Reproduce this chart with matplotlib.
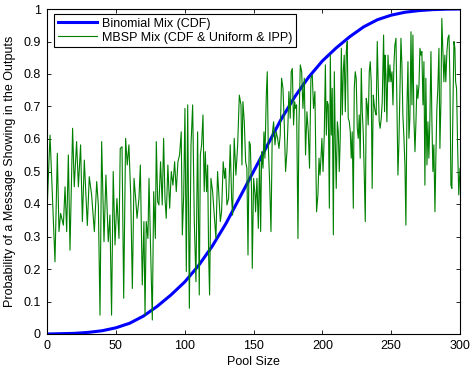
import numpy as np
import matplotlib
matplotlib.use("Agg")
import matplotlib.pyplot as plt

plt.rcParams['font.family'] = ['Liberation Sans', 'DejaVu Sans']

# Binomial mix CDF, read every 10 pool sizes
cdf_x = [0, 10, 20, 30, 40, 50, 60, 70, 80, 90, 100, 110, 120, 130, 140, 150,
         160, 170, 180, 190, 200, 210, 220, 230, 240, 250, 260, 270, 280, 290, 300]
cdf_y = [0.000, 0.001, 0.002, 0.005, 0.010, 0.019, 0.033, 0.055, 0.085, 0.12, 0.16,
         0.21, 0.27, 0.34, 0.42, 0.50, 0.58, 0.66, 0.73, 0.79, 0.84, 0.88, 0.915,
         0.945, 0.967, 0.981, 0.990, 0.995, 0.998, 0.9995, 1.0]

# MBSP mix (CDF & Uniform & IPP)
mbsp_x = [0, 2.2, 5.8, 7.5, 8.7, 9.9, 11.9, 13.1, 14.3, 15.5, 16.7, 18.6, 19.8, 21.5, 22.8,
          24.4, 25.7, 27.1, 29.3, 30.7, 32.4, 34.4, 36.1, 37.3, 38.5, 39.7, 41.4, 42.8, 44.5,
          45.7, 46.9, 48.1, 49.4,
          50.8, 52.3, 53.2, 54.5, 55.7, 57.1, 58.3, 59.5, 60.8, 62.0, 63.2, 64.4, 65.4, 66.8,
          67.8, 69.2, 70.4, 71.2, 72.1, 73.3, 74.1, 75.3, 76.5, 77.5, 78.7, 79.4, 80.4, 81.3,
          82.5, 83.7, 84.7, 85.7, 86.6, 87.8, 89.1, 90.3, 91.5, 92.7, 93.9, 95.1, 96.3, 97.5,
          98.3, 99.3, 100.2, 101.2, 102.2, 103.4, 104.6, 105.8, 107.0, 108.2, 109.4, 110.6,
          111.4, 112.3, 113.3, 114.2, 115.0, 115.9, 116.7, 117.4, 118.1, 119.1, 120.3, 121.5,
          122.7, 123.9, 124.7, 125.9, 126.8, 128.0, 129.0, 129.7, 130.7, 131.9, 133.1, 134.1,
          134.8, 136.0, 137.2, 138.5, 139.7, 140.9, 141.6, 142.3, 143.3, 144.3, 145.2, 146.0,
          146.9,
          147.7, 148.6, 149.1, 150.1, 151.1, 151.5, 152.5, 153.5, 154.4, 155.2, 155.9, 156.9,
          157.6, 158.3, 159.3, 160.0, 160.7, 161.7, 162.7, 163.6, 164.6, 165.6, 166.5, 167.5,
          168.5, 169.4, 170.4, 171.4, 172.3, 173.3, 174.3, 175.0, 175.7, 176.7, 177.4, 178.2,
          179.1, 179.9, 180.6, 181.3, 182.3, 183.0, 184.0, 185.0, 185.9, 186.9, 187.8, 188.8,
          189.8, 190.7, 191.7, 192.7, 193.6, 194.6, 195.8,
          196.8, 197.6, 198.3, 199.0, 199.7, 200.5, 201.4, 202.2, 202.9, 203.6, 204.3, 205.1,
          205.8, 206.5, 207.2, 208.0, 208.7, 209.4, 210.1, 210.9, 211.6, 212.3, 213.0, 213.8,
          214.5, 215.2, 215.9, 216.7, 217.4, 218.1, 218.8, 219.6, 220.3, 221.0, 221.7, 222.5,
          223.2, 223.9, 224.6, 225.4, 226.1, 226.8, 227.5, 228.3, 229.0, 229.7, 230.4, 231.2,
          231.9, 232.6, 233.3, 234.1, 234.8, 235.5, 236.2, 237.0, 237.7, 238.4, 239.1, 239.9,
          240.6, 241.3, 242.0, 242.8, 243.5, 244.5, 245.2,
          245.5, 246.2, 246.9, 247.7, 248.4, 249.1, 249.8, 250.6, 251.3, 252.0, 252.7, 253.5,
          254.2, 254.9, 255.6, 256.4, 257.1, 257.8, 258.5, 259.3, 260.0, 260.7, 261.5, 262.2,
          262.9, 263.6, 264.4, 265.1, 265.8, 266.5, 267.3, 268.0, 268.7, 269.4, 270.2, 270.9,
          271.6, 272.3, 273.1, 273.8, 274.5, 275.2, 276.0, 276.7, 277.4, 278.1, 278.9, 279.6,
          280.3, 281.0, 281.8, 282.5, 283.2, 283.9, 284.7, 285.4, 286.1, 286.8, 287.6, 288.3,
          289.0, 289.7, 290.5, 291.2, 292.0, 292.7, 293.4, 294.1, 294.9, 295.6, 296.3, 296.8,
          297.5, 298.3, 299.1, 300.0]
mbsp_y = [0.376, 0.612, 0.222, 0.556, 0.315, 0.371, 0.335, 0.453, 0.315, 0.551, 0.258, 0.633,
          0.453, 0.592, 0.453, 0.582, 0.346, 0.535, 0.334, 0.484, 0.428, 0.315, 0.469, 0.397,
          0.058, 0.592, 0.284, 0.489, 0.284, 0.366, 0.058, 0.500, 0.274,
          0.417, 0.294, 0.571, 0.576, 0.110, 0.602, 0.520, 0.582, 0.428, 0.140, 0.479, 0.417,
          0.356, 0.417, 0.520, 0.151, 0.346, 0.058, 0.346, 0.294, 0.479, 0.253, 0.043, 0.438,
          0.294, 0.592, 0.407, 0.397, 0.530, 0.397, 0.602, 0.417, 0.356, 0.520, 0.387, 0.500,
          0.458, 0.530, 0.438, 0.530, 0.551, 0.622,
          0.305, 0.428, 0.694, 0.192, 0.705, 0.079, 0.582, 0.705, 0.346, 0.161, 0.622, 0.120,
          0.551, 0.582, 0.674, 0.438, 0.561, 0.438, 0.520, 0.243, 0.120, 0.479, 0.438, 0.366,
          0.294, 0.500, 0.438, 0.346, 0.376, 0.530, 0.479, 0.510, 0.397, 0.417, 0.582, 0.417,
          0.366, 0.602, 0.489, 0.582, 0.735, 0.705, 0.520, 0.715, 0.653, 0.530, 0.510, 0.243,
          0.592,
          0.582, 0.438, 0.202, 0.479, 0.428, 0.376, 0.479, 0.325, 0.541, 0.315, 0.561, 0.510,
          0.622, 0.541, 0.735, 0.807, 0.582, 0.469, 0.315, 0.612, 0.653, 0.582, 0.622, 0.602,
          0.571, 0.612, 0.787, 0.756, 0.653, 0.500, 0.561, 0.643, 0.746, 0.664, 0.807, 0.817,
          0.643, 0.715, 0.694, 0.705, 0.294, 0.643, 0.828, 0.807, 0.694, 0.787, 0.551, 0.684,
          0.622, 0.510, 0.787, 0.797, 0.694, 0.746, 0.376,
          0.428, 0.541, 0.489, 0.541, 0.602, 0.500, 0.612, 0.828, 0.612, 0.715, 0.705, 0.387,
          0.858, 0.612, 0.756, 0.305, 0.807, 0.592, 0.448, 0.653, 0.622, 0.500, 0.602, 0.879,
          0.674, 0.807, 0.858, 0.684, 0.869, 0.900, 0.664, 0.653, 0.622, 0.541, 0.622, 0.387,
          0.756, 0.807, 0.787, 0.633, 0.602, 0.674, 0.541, 0.817, 0.684, 0.622, 0.500, 0.346,
          0.725, 0.705, 0.643, 0.807, 0.838, 0.776, 0.448, 0.735, 0.705, 0.684, 0.674, 0.900,
          0.766, 0.653, 0.633, 0.664, 0.715, 0.920, 0.684,
          0.858, 0.797, 0.653, 0.858, 0.776, 0.828, 0.776, 0.807, 0.705, 0.828, 0.889, 0.910,
          0.694, 0.489, 0.582, 0.756, 0.910, 0.828, 0.674, 0.602, 0.520, 0.335, 0.705, 0.838,
          0.602, 0.664, 0.930, 0.705, 0.920, 0.664, 0.561, 0.653, 0.766, 0.725, 0.766, 0.879,
          0.858, 0.869, 0.705, 0.838, 0.458, 0.787, 0.520, 0.653, 0.541, 0.653, 0.869, 0.653,
          0.500, 0.582, 0.376, 0.551, 0.694, 0.756, 0.879, 0.571, 0.705, 0.971, 0.869, 0.776,
          0.858, 0.776, 0.869, 0.910, 0.920, 0.776, 0.458, 0.448, 0.705, 0.900, 0.879, 0.776,
          0.756, 0.571, 0.428, 0.510]

fig = plt.figure(figsize=(4.72, 3.69), dpi=100)
ax = fig.add_axes([47 / 472, 35 / 369, 413 / 472, 325 / 369])

ax.plot(cdf_x, cdf_y, color=(0, 0, 1), linewidth=2.2, label="Binomial Mix (CDF)")
ax.plot(mbsp_x, mbsp_y, color=(0, 0.5, 0), linewidth=0.8,
        label="MBSP Mix (CDF & Uniform & IPP)")

ax.set_xlim(0, 300)
ax.set_ylim(0, 1)
ax.set_xticks(np.arange(0, 301, 50))
ax.set_yticks(np.arange(0, 1.01, 0.1))
ax.set_yticklabels(["0", "0.1", "0.2", "0.3", "0.4", "0.5", "0.6", "0.7", "0.8", "0.9", "1"])
ax.tick_params(direction="in", top=True, right=True, length=3, width=0.6,
               labelsize=9, pad=4.5)
for s in ax.spines.values():
    s.set_linewidth(0.8)

ax.set_xlabel("Pool Size", fontsize=9, labelpad=3)
ax.set_ylabel("Probability of a Message Showing in the Outputs", fontsize=9, labelpad=5)

leg = ax.legend(loc="upper left", fontsize=9, fancybox=False, framealpha=1,
                edgecolor="black", bbox_to_anchor=(0.017, 0.985), borderaxespad=0,
                handlelength=3.1, handletextpad=0.4, borderpad=0.3, labelspacing=0.15)
leg.get_frame().set_linewidth(0.8)

fig.savefig("out.png", dpi=100)
